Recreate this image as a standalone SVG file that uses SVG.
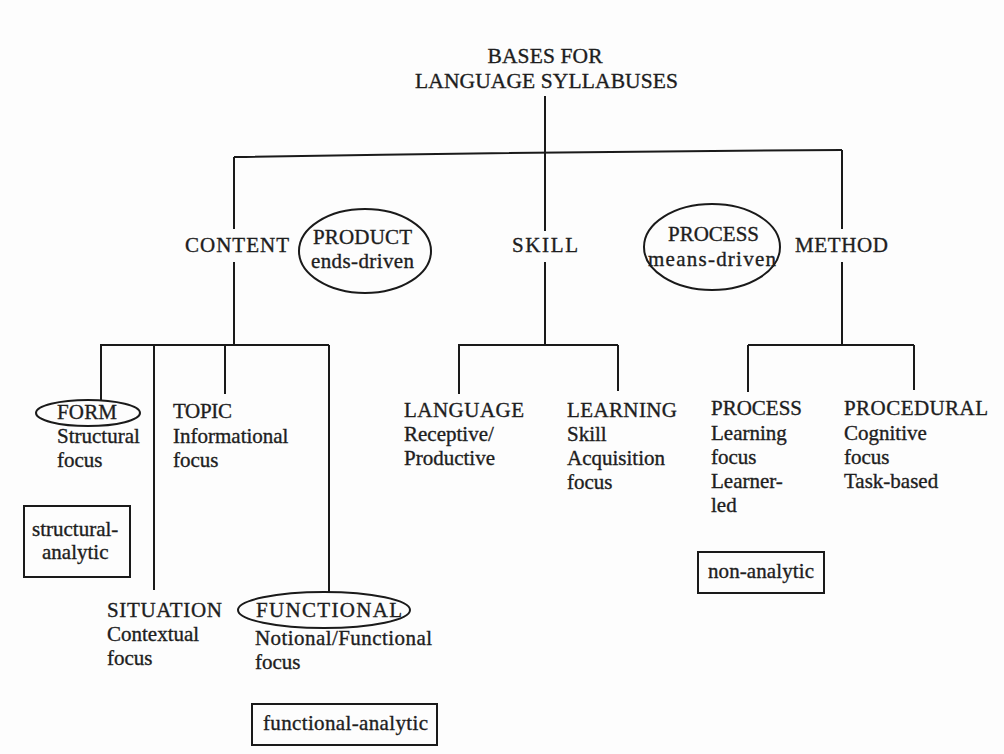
<svg xmlns="http://www.w3.org/2000/svg" width="1004" height="754" viewBox="0 0 1004 754">
<style>
text{font-family:"Liberation Serif","Times New Roman",serif;font-size:21px;fill:#1e1e1e;stroke:#1e1e1e;stroke-width:0.35}
.t{font-size:21.5px}
.ln{stroke:#1a1a1a;stroke-width:2;fill:none}
.sh{stroke:#1a1a1a;stroke-width:2;fill:none}
</style>
<rect width="1004" height="754" fill="#fdfdfd"/>
<g id="connectors">
<line class="ln" x1="545" y1="96" x2="545" y2="154"/>
<path class="ln" d="M234 157 Q540 152 842 150"/>
<line class="ln" x1="234" y1="157" x2="234" y2="229"/>
<line class="ln" x1="234" y1="262" x2="234" y2="345"/>
<line class="ln" x1="545" y1="154" x2="545" y2="231"/>
<line class="ln" x1="545" y1="262" x2="545" y2="345"/>
<line class="ln" x1="842" y1="150" x2="842" y2="229"/>
<line class="ln" x1="842" y1="262" x2="842" y2="345"/>
<line class="ln" x1="100" y1="345" x2="329" y2="345"/>
<line class="ln" x1="101" y1="345" x2="101" y2="400"/>
<line class="ln" x1="154" y1="345" x2="154" y2="590"/>
<line class="ln" x1="225" y1="345" x2="225" y2="394"/>
<line class="ln" x1="329" y1="345" x2="329" y2="592"/>
<line class="ln" x1="458" y1="345" x2="618" y2="345"/>
<line class="ln" x1="459" y1="345" x2="459" y2="394"/>
<line class="ln" x1="618" y1="345" x2="618" y2="391"/>
<line class="ln" x1="748" y1="345" x2="914" y2="345"/>
<line class="ln" x1="748" y1="345" x2="748" y2="392"/>
<line class="ln" x1="914" y1="345" x2="914" y2="390"/>
</g>
<g id="root">
<text class="t" x="545" y="63" text-anchor="middle" textLength="115">BASES FOR</text>
<text class="t" x="415" y="88" textLength="263">LANGUAGE SYLLABUSES</text>
</g>
<g id="content"><text x="185" y="252" textLength="104">CONTENT</text></g>
<g id="product">
<ellipse class="sh" cx="365" cy="251" rx="66" ry="42"/>
<text x="313" y="244" textLength="99">PRODUCT</text>
<text x="311" y="268" textLength="103">ends-driven</text>
</g>
<g id="skill"><text x="512" y="252" textLength="66">SKILL</text></g>
<g id="process-top">
<ellipse class="sh" cx="712" cy="247" rx="68" ry="43"/>
<text x="668" y="241" textLength="91">PROCESS</text>
<text x="648" y="266" textLength="128">means-driven</text>
</g>
<g id="method"><text x="795" y="252" textLength="93">METHOD</text></g>
<g id="form">
<ellipse class="sh" cx="88" cy="413" rx="52" ry="13"/>
<text x="57" y="419" textLength="60">FORM</text>
<text x="57" y="443">Structural</text>
<text x="57" y="467">focus</text>
</g>
<g id="structural-analytic">
<rect class="sh" x="24" y="506" width="106" height="71"/>
<text x="32" y="536">structural-</text>
<text x="42" y="559">analytic</text>
</g>
<g id="topic">
<text x="173" y="418" textLength="59">TOPIC</text>
<text x="173" y="443">Informational</text>
<text x="173" y="467">focus</text>
</g>
<g id="situation">
<text x="107" y="617" textLength="115">SITUATION</text>
<text x="107" y="641">Contextual</text>
<text x="107" y="665">focus</text>
</g>
<g id="functional">
<ellipse class="sh" cx="324" cy="610" rx="86" ry="18"/>
<text x="256" y="617" textLength="146">FUNCTIONAL</text>
<text x="255" y="645" textLength="177">Notional/Functional</text>
<text x="255" y="669">focus</text>
</g>
<g id="functional-analytic">
<rect class="sh" x="252" y="704" width="185" height="41"/>
<text x="263" y="730" textLength="165">functional-analytic</text>
</g>
<g id="language">
<text x="404" y="417" textLength="120">LANGUAGE</text>
<text x="404" y="441">Receptive/</text>
<text x="404" y="465">Productive</text>
</g>
<g id="learning">
<text x="567" y="417" textLength="110">LEARNING</text>
<text x="567" y="441">Skill</text>
<text x="567" y="465">Acquisition</text>
<text x="567" y="489">focus</text>
</g>
<g id="process">
<text x="711" y="415" textLength="91">PROCESS</text>
<text x="711" y="440">Learning</text>
<text x="711" y="464">focus</text>
<text x="711" y="488">Learner-</text>
<text x="711" y="512">led</text>
</g>
<g id="procedural">
<text x="844" y="415" textLength="144">PROCEDURAL</text>
<text x="844" y="440">Cognitive</text>
<text x="844" y="464">focus</text>
<text x="844" y="488">Task-based</text>
</g>
<g id="non-analytic">
<rect class="sh" x="698" y="552" width="126" height="41"/>
<text x="708" y="578" textLength="106">non-analytic</text>
</g>
</svg>
